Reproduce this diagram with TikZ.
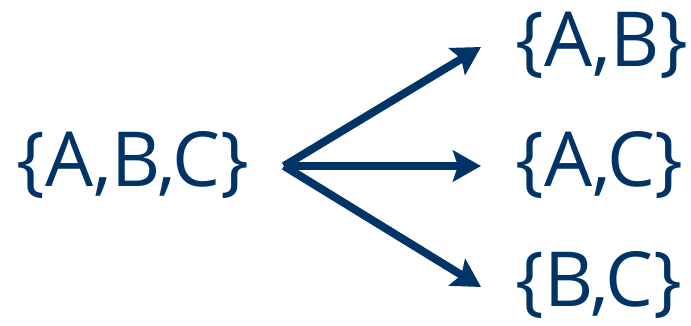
\documentclass[tikz,border=0pt]{standalone}
\usepackage{fontspec}
\setmainfont{Open Sans}
\usetikzlibrary{arrows.meta}
\definecolor{navy}{RGB}{0,51,102}
\begin{document}
\begin{tikzpicture}[x=1pt,y=1pt,
  setlabel/.style={text=navy,font=\fontsize{76}{82}\selectfont,inner sep=0pt},
  fork/.style={draw=navy,line width=8pt,-{Stealth[length=28pt,width=31pt,inset=5pt]}}]
\useasboundingbox (0,0) rectangle (691,325);
\node[setlabel,anchor=west] (abc) at (16,160) {\{A,B,C\}};
\node[setlabel,anchor=west] (ab) at (515,280) {\{A,B\}};
\node[setlabel,anchor=west] (ac) at (515,160) {\{A,C\}};
\node[setlabel,anchor=west] (bc) at (515,40) {\{B,C\}};
\coordinate (split) at (284,159);
\coordinate (tab) at (481,278);
\coordinate (tac) at (481,159);
\coordinate (tbc) at (481,38);
\draw[fork] (split) -- (tab);
\draw[fork] (split) -- (tac);
\draw[fork] (split) -- (tbc);
\end{tikzpicture}
\end{document}
